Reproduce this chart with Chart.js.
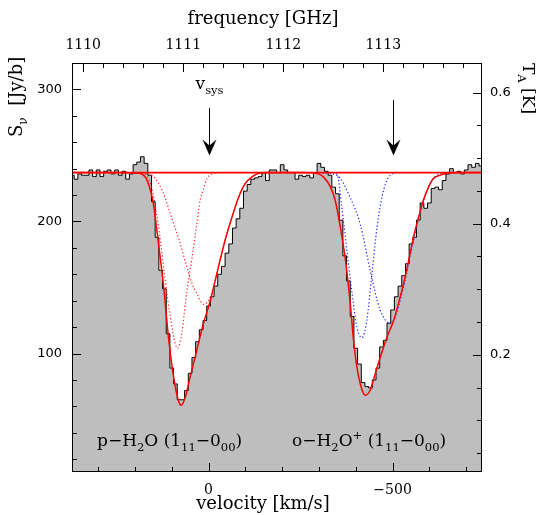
<!DOCTYPE html>
<html>
<head>
<meta charset="utf-8">
<script src="https://cdn.jsdelivr.net/npm/chart.js@4.4.1/dist/chart.umd.min.js"></script>
<style>
html, body { margin: 0; padding: 0; background: #fff; }
</style>
</head>
<body>
<canvas id="myChart" width="542" height="515"></canvas>
<script>
// observed spectrum, 10 km/s channels (velocity in km/s, flux in Jy/beam)
let velocity = [380, 370, 360, 350, 340, 330, 320, 310, 300, 290, 280, 270, 260, 250, 240, 230, 220, 210,
    200, 190, 180, 170, 160, 150, 140, 130, 120, 110, 100, 90, 80, 70, 60, 50, 40, 30, 20, 10, 0,
    -10, -20, -30, -40, -50, -60, -70, -80, -90, -100, -110, -120, -130, -140, -150, -160, -170, -180, -190,
    -200, -210, -220, -230, -240, -250, -260, -270, -280, -290, -300, -310, -320, -330, -340, -350, -360,
    -370, -380, -390, -400, -410, -420, -430, -440, -450, -460, -470, -480, -490, -500, -510, -520, -530,
    -540, -550, -560, -570, -580, -590, -600, -610, -620, -630, -640, -650, -660, -670, -680, -690, -700,
    -710, -720, -730, -740, -750];
let flux = [236, 235, 232, 236, 235, 235, 239, 234, 239, 234, 238, 239, 236, 239, 235, 238, 232, 236,
    243, 245, 249, 244, 235, 215, 188, 163, 149, 115, 89, 77, 65, 65, 72, 85, 97, 109, 118, 125, 136,
    143, 151, 160, 166, 176, 183, 195, 202, 210, 223, 228, 232, 233, 234, 237, 231, 239, 239, 237,
    243, 239, 237, 237, 232, 235, 234, 235, 233, 237, 244, 241, 238, 235, 226, 221, 201,
    174, 155, 128, 104, 92, 78, 75, 74, 80, 89, 105, 110, 123, 133, 143, 151, 159,
    168, 183, 188, 201, 214, 210, 214, 225, 226, 224, 231, 236, 240, 237, 238, 236, 239,
    243, 241, 244, 242, 242];

// continuum level
let contVel = [380, -750];
let contFlux = [237, 237];

// total fit
let fitVel = [380, 230, 200, 186, 167, 150, 136, 122, 109, 95, 82, 75, 63, 50, 32, 14, -5, -27, -45, -64,
    -82, -100, -118, -136, -154, -200, -260, -285, -312, -331, -344, -358, -372, -385, -394, -403, -412,
    -421, -426, -439, -453, -467, -485, -503, -516, -530, -544, -557, -571, -584, -598, -611, -630, -650,
    -670, -750];
let fitFlux = [237, 237, 236.8, 236.4, 231.3, 213.6, 183.3, 150.5, 112.6, 82.3, 64.6, 60.8, 67.1, 82.3, 102.5,
    122.7, 140.4, 165.6, 185.8, 203.5, 218.6, 228.8, 233.8, 236.4, 237, 237, 237, 236.8, 233.8, 226.2, 216.1,
    195.9, 170.7, 137.9, 110, 89.8, 77.3, 69.7, 68.4, 72.2, 84.8, 97.5, 112.6, 125, 137.9, 153, 170.7, 188.4,
    203.5, 216.1, 226.2, 232.6, 235.1, 236.5, 237, 237];

// p-H2O components
let h2oAVel = [230, 186, 158, 140, 131, 118, 104, 91, 84, 72, 59, 45, 32, 23, 14, 5, -10, -30];
let h2oAFlux = [237, 236.5, 229, 204, 186, 156, 128, 108, 104, 117, 147, 172, 198, 216, 224, 232, 236, 237];
let h2oBVel = [230, 186, 149, 125, 104, 80, 59, 45, 32, 14, -5, -27, -45, -64, -82, -100, -118, -136, -154, -180];
let h2oBFlux = [237, 237, 233.8, 223, 206, 186, 165.6, 153, 145.5, 137.3, 143, 166, 185.8, 203.5, 218.6, 228.8,
    233.8, 236.4, 237, 237];

// o-H2O+ components
let h2opAVel = [-300, -331, -349, -362, -376, -390, -403, -417, -430, -444, -458, -476, -494, -521, -560];
let h2opAFlux = [237, 237, 236, 211, 178, 145.5, 120, 112, 125, 160, 196, 224, 235, 237, 237];
let h2opBVel = [-300, -349, -385, -412, -440, -466, -494, -507, -530, -557, -584, -611, -639, -680];
let h2opBFlux = [237, 235, 218, 198, 162, 133, 123, 128, 150.5, 186, 216, 232.6, 236.4, 237];

// axis ticks
let velTicks = [0, -500];
let freqTicks = [1110, 1111, 1112, 1113];
let fluxTicks = [100, 200, 300];
let taTicks = [0.2, 0.4, 0.6];

// arrows: v_sys and the o-H2O+ line
let arrowVel = [0, -500];
let arrowTop = [286, 292];
let arrowTip = 250;

function pts(xs, ys) {
    return xs.map((x, i) => ({ x: x, y: ys[i] }));
}

function richText(ctx, parts, x, y, size, align) {
    let fam = "'DejaVu Serif', serif";
    let w = 0;
    let items = parts.map(p => {
        let s = p[1] ? size * 0.68 : size;
        ctx.font = s + 'px ' + fam;
        let tw = ctx.measureText(p[0]).width;
        w += tw;
        return { t: p[0], m: p[1], s: s, tw: tw };
    });
    let cx = align === 'center' ? x - w / 2 : (align === 'right' ? x - w : x);
    ctx.textAlign = 'left';
    items.forEach(it => {
        ctx.font = it.s + 'px ' + fam;
        let dy = it.m === 1 ? size * 0.3 : (it.m === 2 ? -size * 0.42 : 0);
        ctx.fillText(it.t, cx, y + dy);
        cx += it.tw;
    });
}

function tickMarks(ctx, scale, values, len, side, a) {
    values.forEach(v => {
        let p = Math.round(scale.getPixelForValue(v)) + 0.5;
        ctx.beginPath();
        if (side === 'bottom') { ctx.moveTo(p, a.bottom); ctx.lineTo(p, a.bottom - len); }
        if (side === 'top') { ctx.moveTo(p, a.top); ctx.lineTo(p, a.top + len); }
        if (side === 'left') { ctx.moveTo(a.left, p); ctx.lineTo(a.left + len, p); }
        if (side === 'right') { ctx.moveTo(a.right, p); ctx.lineTo(a.right - len, p); }
        ctx.stroke();
    });
}

function range(from, to, step) {
    let out = [];
    for (let v = from; step > 0 ? v <= to + 1e-9 : v >= to - 1e-9; v += step) out.push(+v.toFixed(4));
    return out;
}

const decor = {
    id: 'decor',
    afterDatasetsDraw(chart) {
        let ctx = chart.ctx;
        let a = chart.chartArea;
        let sx = chart.scales.x, sx2 = chart.scales.x2, sy = chart.scales.y, sy2 = chart.scales.y2;
        ctx.save();
        ctx.strokeStyle = '#000';
        ctx.fillStyle = '#000';
        ctx.lineWidth = 1;

        // ticks pointing inwards
        tickMarks(ctx, sx, range(300, -700, -100), 5, 'bottom', a);
        tickMarks(ctx, sx, velTicks, 9, 'bottom', a);
        tickMarks(ctx, sx2, range(1110, 1113.8, 0.2), 5, 'top', a);
        tickMarks(ctx, sx2, freqTicks, 9, 'top', a);
        tickMarks(ctx, sy, range(20, 320, 20), 5, 'left', a);
        tickMarks(ctx, sy, fluxTicks, 9, 'left', a);
        tickMarks(ctx, sy2, range(0.05, 0.6, 0.05), 5, 'right', a);
        tickMarks(ctx, sy2, taTicks, 9, 'right', a);

        // frame
        ctx.strokeRect(a.left + 0.5, a.top + 0.5, a.right - a.left - 1, a.bottom - a.top - 1);

        // arrows
        arrowVel.forEach((v, i) => {
            let x = Math.round(sx.getPixelForValue(v)) + 0.5;
            let y0 = sy.getPixelForValue(arrowTop[i]);
            let y1 = sy.getPixelForValue(arrowTip);
            ctx.beginPath();
            ctx.moveTo(x, y0);
            ctx.lineTo(x, y1 - 6);
            ctx.stroke();
            ctx.beginPath();
            ctx.moveTo(x, y1);
            ctx.lineTo(x - 7, y1 - 16);
            ctx.lineTo(x, y1 - 10);
            ctx.lineTo(x + 7, y1 - 16);
            ctx.closePath();
            ctx.fill();
        });

        // texts
        richText(ctx, [['v', 0], ['sys', 1]], sx.getPixelForValue(0) + 1, 89, 17, 'center');
        richText(ctx, [['p\u2212H', 0], ['2', 1], ['O (1', 0], ['11', 1], ['\u22120', 0], ['00', 1], [')', 0]], 97, 446, 17, 'left');
        richText(ctx, [['o\u2212H', 0], ['2', 1], ['O', 0], ['+', 2], [' (1', 0], ['11', 1], ['\u22120', 0], ['00', 1], [')', 0]], 292, 446, 17, 'left');

        // axis titles
        richText(ctx, [['frequency [GHz]', 0]], 263, 24, 18, 'center');
        richText(ctx, [['velocity [km/s]', 0]], 263, 509, 18, 'center');
        ctx.save();
        ctx.translate(22, 137);
        ctx.rotate(-Math.PI / 2);
        richText(ctx, [['S', 0], ['\u03bd', 1], ['  [Jy/b]', 0]], 0, 0, 18, 'left');
        ctx.restore();
        ctx.save();
        ctx.translate(523, 63);
        ctx.rotate(Math.PI / 2);
        richText(ctx, [['T', 0], ['A', 1], [' [K]', 0]], 0, 0, 17, 'left');
        ctx.restore();

        ctx.restore();
    }
};

function fixedTicks(list) {
    return function (scale) {
        scale.ticks = list.map(v => ({ value: v }));
    };
}

let ctx = document.getElementById('myChart').getContext('2d');
let dotted = [1.3, 2.2];
let myChart = new Chart(ctx, {
    type: 'line',
    data: {
        datasets: [{
            label: 'spectrum',
            data: pts(velocity, flux),
            stepped: 'middle',
            borderColor: '#000',
            borderWidth: 1,
            backgroundColor: '#bebebe',
            fill: 'start',
            pointRadius: 0,
            order: 10
        }, {
            label: 'continuum',
            data: pts(contVel, contFlux),
            borderColor: '#ff0000',
            borderWidth: 1.8,
            pointRadius: 0,
            order: 2
        }, {
            label: 'fit',
            data: pts(fitVel, fitFlux),
            borderColor: '#ff0000',
            borderWidth: 1.5,
            pointRadius: 0,
            cubicInterpolationMode: 'monotone',
            order: 1
        }, {
            label: 'p-H2O a',
            data: pts(h2oAVel, h2oAFlux),
            borderColor: '#ff2a2a',
            borderWidth: 1.2,
            borderDash: dotted,
            pointRadius: 0,
            cubicInterpolationMode: 'monotone',
            order: 3
        }, {
            label: 'p-H2O b',
            data: pts(h2oBVel, h2oBFlux),
            borderColor: '#ff2a2a',
            borderWidth: 1.2,
            borderDash: dotted,
            pointRadius: 0,
            cubicInterpolationMode: 'monotone',
            order: 3
        }, {
            label: 'o-H2O+ a',
            data: pts(h2opAVel, h2opAFlux),
            borderColor: '#2a2aff',
            borderWidth: 1.2,
            borderDash: dotted,
            pointRadius: 0,
            cubicInterpolationMode: 'monotone',
            order: 3
        }, {
            label: 'o-H2O+ b',
            data: pts(h2opBVel, h2opBFlux),
            borderColor: '#2a2aff',
            borderWidth: 1.2,
            borderDash: dotted,
            pointRadius: 0,
            cubicInterpolationMode: 'monotone',
            order: 3
        }]
    },
    options: {
        responsive: false,
        animation: false,
        parsing: true,
        layout: { padding: 0 },
        plugins: { legend: { display: false }, tooltip: { enabled: false } },
        scales: {
            x: {
                type: 'linear', position: 'bottom', reverse: true, min: -743, max: 371,
                grid: { display: false, drawTicks: false }, border: { display: false },
                afterBuildTicks: fixedTicks(velTicks),
                afterFit: s => { s.height = 43; },
                ticks: {
                    color: '#000', padding: 10, maxRotation: 0, autoSkip: false,
                    font: { family: "'DejaVu Serif'", size: 14 },
                    callback: v => v === 0 ? '0' : '\u2212' + Math.abs(v)
                }
            },
            x2: {
                type: 'linear', position: 'top', min: 1109.888, max: 1113.987,
                grid: { display: false, drawTicks: false }, border: { display: false },
                afterBuildTicks: fixedTicks(freqTicks),
                afterFit: s => { s.height = 63; },
                ticks: {
                    color: '#000', padding: 9, maxRotation: 0, autoSkip: false,
                    font: { family: "'DejaVu Serif'", size: 14 },
                    callback: v => String(v)
                }
            },
            y: {
                type: 'linear', position: 'left', min: 10.3, max: 320,
                grid: { display: false, drawTicks: false }, border: { display: false },
                afterBuildTicks: fixedTicks(fluxTicks),
                afterFit: s => { s.width = 72; },
                ticks: {
                    color: '#000', padding: 10, autoSkip: false,
                    font: { family: "'DejaVu Sans'", size: 13 },
                    callback: v => String(v)
                }
            },
            y2: {
                type: 'linear', position: 'right', min: 0.0214, max: 0.645,
                grid: { display: false, drawTicks: false }, border: { display: false },
                afterBuildTicks: fixedTicks(taTicks),
                afterFit: s => { s.width = 60; },
                ticks: {
                    color: '#000', padding: 8, autoSkip: false,
                    font: { family: "'DejaVu Sans'", size: 13 },
                    callback: v => v.toFixed(1)
                }
            }
        }
    },
    plugins: [decor]
});
</script>
</body>
</html>
